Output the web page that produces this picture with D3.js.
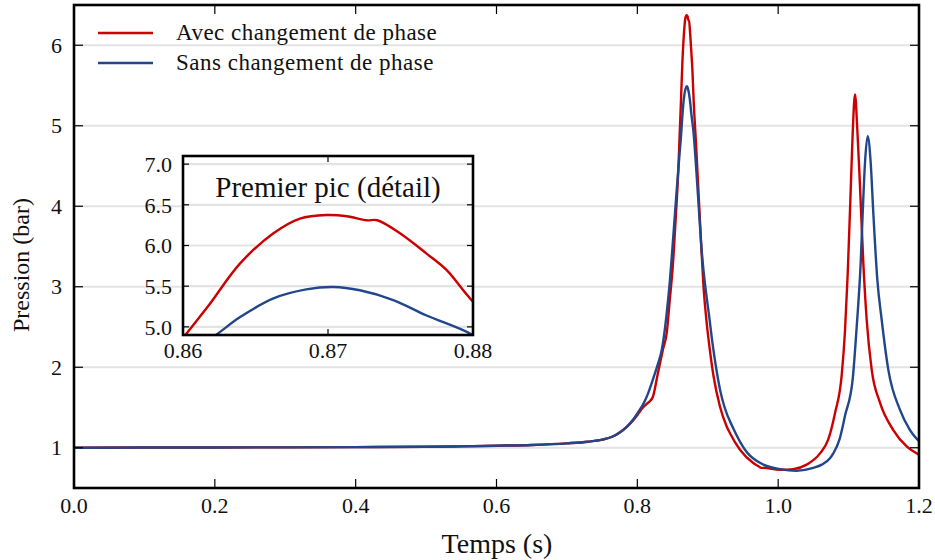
<!DOCTYPE html>
<html>
<head>
<meta charset="utf-8">
<script src="https://cdn.jsdelivr.net/npm/d3@7/dist/d3.min.js"></script>
<style>
  html, body { margin: 0; padding: 0; background: #fff; }
  svg { display: block; }
  text { font-family: "Liberation Serif", "Times New Roman", serif; fill: #111; }
</style>
</head>
<body>
<svg id="chart" width="935" height="560"></svg>
<script>
// ---- data ----
const seriesNames = ["Avec changement de phase", "Sans changement de phase"];
const seriesColors = ["#cc0000", "#21468a"];

const tAvec = [0, 0.1, 0.2, 0.3, 0.4, 0.5, 0.55, 0.6, 0.65, 0.7, 0.73, 0.75, 0.765, 0.775, 0.785, 0.794, 0.802, 0.808, 0.8137, 0.818, 0.822, 0.8293, 0.8364, 0.8418, 0.8461, 0.8503, 0.8545, 0.8582, 0.86016, 0.8617, 0.86394, 0.86624, 0.86807, 0.86991, 0.87129, 0.87266, 0.8734, 0.87496, 0.8768, 0.87817, 0.88, 0.8835, 0.887, 0.8905, 0.894, 0.8985, 0.9032, 0.908, 0.9174, 0.9269, 0.9316, 0.9458, 0.9647, 0.972, 0.976, 0.979, 1.0026, 1.0215, 1.0405, 1.0594, 1.071, 1.0807, 1.0902, 1.0949, 1.0987, 1.103, 1.1058, 1.1091, 1.1124, 1.1162, 1.1209, 1.1257, 1.1328, 1.1446, 1.1635, 1.1825, 1.2];
const pAvec = [1.0, 1.003, 1.003, 1.005, 1.008, 1.012, 1.017, 1.025, 1.035, 1.055, 1.075, 1.10, 1.14, 1.19, 1.26, 1.34, 1.43, 1.50, 1.547, 1.58, 1.63, 1.93, 2.22, 2.43, 2.84, 3.25, 3.85, 4.45, 4.9, 5.246, 5.78, 6.15, 6.33, 6.374, 6.36, 6.31, 6.31, 6.15, 5.90, 5.70, 5.31, 4.75, 4.15, 3.55, 3.0, 2.55, 2.2, 1.9, 1.51, 1.265, 1.18, 0.975, 0.81, 0.77, 0.75, 0.75, 0.726, 0.735, 0.79, 0.93, 1.1, 1.43, 1.9, 2.45, 3.15, 4.2, 4.9, 5.39, 4.955, 4.25, 3.3, 2.59, 1.97, 1.56, 1.22, 1.016, 0.915];

const tSans = [0, 0.1, 0.2, 0.3, 0.4, 0.5, 0.55, 0.6, 0.65, 0.7, 0.73, 0.75, 0.765, 0.775, 0.785, 0.794, 0.801, 0.808, 0.815, 0.822, 0.8285, 0.8348, 0.8412, 0.8465, 0.851, 0.8555, 0.8595, 0.8621, 0.86394, 0.86624, 0.8685, 0.87037, 0.8722, 0.8745, 0.8768, 0.88, 0.8835, 0.887, 0.8905, 0.894, 0.898, 0.9022, 0.907, 0.9127, 0.918, 0.924, 0.9363, 0.955, 0.979, 1.0026, 1.026, 1.05, 1.062, 1.0736, 1.0783, 1.087, 1.095, 1.1058, 1.1115, 1.1172, 1.1202, 1.1233, 1.1271, 1.1314, 1.1351, 1.1408, 1.147, 1.1564, 1.173, 1.1872, 1.2];
const pSans = [1.0, 1.003, 1.003, 1.005, 1.008, 1.012, 1.017, 1.025, 1.035, 1.055, 1.075, 1.10, 1.14, 1.19, 1.26, 1.35, 1.44, 1.535, 1.67, 1.846, 2.02, 2.22, 2.63, 3.1, 3.62, 4.15, 4.6, 4.88, 5.12, 5.35, 5.46, 5.49, 5.45, 5.33, 5.14, 4.9, 4.48, 4.02, 3.55, 3.2, 2.9, 2.62, 2.28, 1.95, 1.7, 1.5, 1.24, 0.95, 0.79, 0.735, 0.715, 0.75, 0.79, 0.87, 0.93, 1.1, 1.40, 1.85, 2.5, 3.3, 3.95, 4.54, 4.87, 4.54, 3.92, 3.09, 2.59, 1.97, 1.47, 1.22, 1.08];

const xTicks = [0.0, 0.2, 0.4, 0.6, 0.8, 1.0, 1.2];
const yTicks = [1, 2, 3, 4, 5, 6];
const insetXTicks = [0.86, 0.87, 0.88];
const insetYTicks = [5.0, 5.5, 6.0, 6.5, 7.0];
const xLabel = "Temps (s)";
const yLabel = "Pression (bar)";
const insetTitle = "Premier pic (détail)";

// ---- build ----
const series = [
  { name: seriesNames[0], color: seriesColors[0], pts: tAvec.map((t, i) => [t, pAvec[i]]) },
  { name: seriesNames[1], color: seriesColors[1], pts: tSans.map((t, i) => [t, pSans[i]]) }
];

const svg = d3.select("#chart");
const M = { left: 74, right: 919, top: 5, bottom: 488 };
const x = d3.scaleLinear().domain([0, 1.2]).range([M.left, M.right]);
const y = d3.scaleLinear().domain([0.5, 6.5]).range([M.bottom, M.top]);

const gridColor = "#e3e3e3";
const curve = d3.curveMonotoneX;

// main grid
svg.append("g").selectAll("line").data(yTicks).join("line")
  .attr("x1", M.left).attr("x2", M.right)
  .attr("y1", d => y(d)).attr("y2", d => y(d))
  .attr("stroke", gridColor).attr("stroke-width", 2.2);

svg.append("clipPath").attr("id", "mainClip").append("rect")
  .attr("x", M.left).attr("y", M.top).attr("width", M.right - M.left).attr("height", M.bottom - M.top);

const line = d3.line().x(d => x(d[0])).y(d => y(d[1])).curve(curve);
const gLines = svg.append("g").attr("clip-path", "url(#mainClip)");
gLines.selectAll("path").data(series).join("path")
  .attr("d", d => line(d.pts))
  .attr("fill", "none").attr("stroke", d => d.color).attr("stroke-width", 2.4)
  .attr("stroke-linejoin", "round");

// legend
const leg = svg.append("g");
series.forEach((s, i) => {
  const yy = 33 + i * 30;
  leg.append("line").attr("x1", 98).attr("x2", 153).attr("y1", yy).attr("y2", yy)
    .attr("stroke", s.color).attr("stroke-width", 2.4);
  leg.append("text").attr("x", 176).attr("y", yy + 7).attr("font-size", 23)
    .attr("letter-spacing", 0.5).text(s.name);
});

// main axes (ticks inward on all four sides)
const tickLen = 9;
const axisStroke = "#000";
const axG = svg.append("g");
xTicks.forEach(t => {
  axG.append("line").attr("x1", x(t)).attr("x2", x(t)).attr("y1", M.bottom).attr("y2", M.bottom - tickLen)
    .attr("stroke", axisStroke).attr("stroke-width", 1.2);
  axG.append("line").attr("x1", x(t)).attr("x2", x(t)).attr("y1", M.top).attr("y2", M.top + tickLen)
    .attr("stroke", axisStroke).attr("stroke-width", 1.2);
  axG.append("text").attr("x", x(t)).attr("y", 513).attr("text-anchor", "middle")
    .attr("font-size", 22).text(d3.format(".1f")(t));
});
yTicks.forEach(v => {
  axG.append("line").attr("x1", M.left).attr("x2", M.left + tickLen).attr("y1", y(v)).attr("y2", y(v))
    .attr("stroke", axisStroke).attr("stroke-width", 1.2);
  axG.append("line").attr("x1", M.right).attr("x2", M.right - tickLen).attr("y1", y(v)).attr("y2", y(v))
    .attr("stroke", axisStroke).attr("stroke-width", 1.2);
  axG.append("text").attr("x", 62).attr("y", y(v)).attr("dy", "0.35em").attr("text-anchor", "end")
    .attr("font-size", 22).text(v);
});
axG.append("rect").attr("x", M.left).attr("y", M.top).attr("width", M.right - M.left).attr("height", M.bottom - M.top)
  .attr("fill", "none").attr("stroke", "#000").attr("stroke-width", 2.6);

svg.append("text").attr("x", 497).attr("y", 553).attr("text-anchor", "middle").attr("font-size", 28).text(xLabel);
svg.append("text").attr("transform", "translate(29,265) rotate(-90)").attr("text-anchor", "middle")
  .attr("font-size", 24).text(yLabel);

// ---- inset ----
const I = { left: 183, right: 473, top: 156, bottom: 335 };
const xi = d3.scaleLinear().domain([0.86, 0.88]).range([I.left, I.right]);
const yi = d3.scaleLinear().domain([4.9, 7.1]).range([I.bottom, I.top]);
const gi = svg.append("g");
gi.append("rect").attr("x", I.left).attr("y", I.top).attr("width", I.right - I.left).attr("height", I.bottom - I.top)
  .attr("fill", "#fff");
gi.append("g").selectAll("line").data(insetYTicks).join("line")
  .attr("x1", I.left).attr("x2", I.right).attr("y1", d => yi(d)).attr("y2", d => yi(d))
  .attr("stroke", gridColor).attr("stroke-width", 2.2);
svg.append("clipPath").attr("id", "insetClip").append("rect")
  .attr("x", I.left).attr("y", I.top).attr("width", I.right - I.left).attr("height", I.bottom - I.top);
const lineI = d3.line().x(d => xi(d[0])).y(d => yi(d[1])).curve(d3.curveCatmullRom.alpha(0.5));
gi.append("g").attr("clip-path", "url(#insetClip)").selectAll("path").data(series).join("path")
  .attr("d", d => lineI(d.pts))
  .attr("fill", "none").attr("stroke", d => d.color).attr("stroke-width", 2.4).attr("stroke-linejoin", "round");
gi.append("text").attr("x", (I.left + I.right) / 2).attr("y", 197).attr("text-anchor", "middle")
  .attr("font-size", 29).text(insetTitle);
const tl = 6;
insetXTicks.forEach(t => {
  gi.append("line").attr("x1", xi(t)).attr("x2", xi(t)).attr("y1", I.bottom).attr("y2", I.bottom - tl)
    .attr("stroke", "#000").attr("stroke-width", 1.2);
  gi.append("line").attr("x1", xi(t)).attr("x2", xi(t)).attr("y1", I.top).attr("y2", I.top + tl)
    .attr("stroke", "#000").attr("stroke-width", 1.2);
  gi.append("text").attr("x", xi(t)).attr("y", 358).attr("text-anchor", "middle")
    .attr("font-size", 22).text(d3.format(".2f")(t));
});
insetYTicks.forEach(v => {
  gi.append("line").attr("x1", I.left).attr("x2", I.left + tl).attr("y1", yi(v)).attr("y2", yi(v))
    .attr("stroke", "#000").attr("stroke-width", 1.2);
  gi.append("line").attr("x1", I.right).attr("x2", I.right - tl).attr("y1", yi(v)).attr("y2", yi(v))
    .attr("stroke", "#000").attr("stroke-width", 1.2);
  gi.append("text").attr("x", 172).attr("y", yi(v)).attr("dy", "0.35em").attr("text-anchor", "end")
    .attr("font-size", 22).text(d3.format(".1f")(v));
});
gi.append("rect").attr("x", I.left).attr("y", I.top).attr("width", I.right - I.left).attr("height", I.bottom - I.top)
  .attr("fill", "none").attr("stroke", "#000").attr("stroke-width", 2.6);
</script>
</body>
</html>
